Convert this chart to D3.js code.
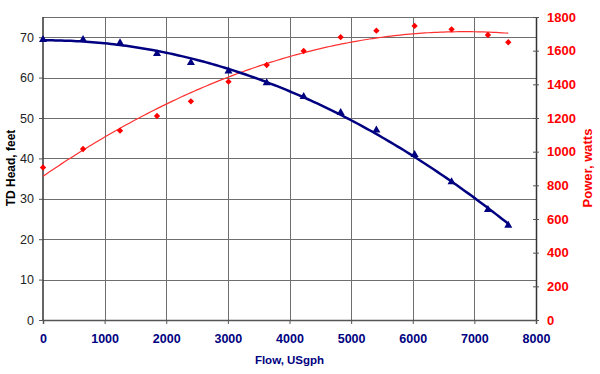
<!DOCTYPE html>
<html><head><meta charset="utf-8">
<script src="https://cdn.jsdelivr.net/npm/d3@7"></script>
<style>html,body{margin:0;padding:0;background:#fff;}svg{display:block;font-family:"Liberation Sans",Arial,sans-serif;}</style>
</head><body>
<svg id="c" width="600" height="374"></svg>
<script>
const flow  = [0, 650, 1250, 1850, 2400, 3010, 3630, 4230, 4830, 5410, 6030, 6630, 7220, 7550];
const head  = [69.4, 69.4, 68.6, 65.9, 63.7, 61.6, 58.7, 55.3, 51.3, 47.0, 40.9, 34.2, 27.3, 23.4];
const power = [906, 1016, 1125, 1212, 1299, 1416, 1515, 1598, 1680, 1719, 1747, 1727, 1693, 1650];
const xTicks = [0,1000,2000,3000,4000,5000,6000,7000,8000];
const yTicks = [0,10,20,30,40,50,60,70];
const y2Ticks = [0,200,400,600,800,1000,1200,1400,1600,1800];

const svg = d3.select('#c');
const L=43, R=536, T=17, B=320;
const x = d3.scaleLinear().domain([0,8000]).range([L,R]);
const y = d3.scaleLinear().domain([0,75]).range([B,T]);
const y2 = d3.scaleLinear().domain([0,1800]).range([B,T]);
const FONT = '"Liberation Sans",Arial,sans-serif';

// least-squares quadratic fit (trendline)
function polyfit(xs, ys){
  const n=xs.length; let S=[0,0,0,0,0], Sy=[0,0,0];
  for(let i=0;i<n;i++){let p=1;for(let k=0;k<5;k++){S[k]+=p;if(k<3)Sy[k]+=p*ys[i];p*=xs[i];}}
  const A=[[S[0],S[1],S[2],Sy[0]],[S[1],S[2],S[3],Sy[1]],[S[2],S[3],S[4],Sy[2]]];
  for(let i=0;i<3;i++){for(let j=i+1;j<3;j++){const f=A[j][i]/A[i][i];for(let k=i;k<4;k++)A[j][k]-=f*A[i][k];}}
  const c=[0,0,0];for(let i=2;i>=0;i--){let s=A[i][3];for(let k=i+1;k<3;k++)s-=A[i][k]*c[k];c[i]=s/A[i][i];}
  return v=>c[0]+c[1]*v+c[2]*v*v;
}
const fh = polyfit(flow, head), fp = polyfit(flow, power);
const xs = d3.range(0, flow[flow.length-1]+1, 50);

// grid
const g = svg.append('g');
g.selectAll('.hg').data(yTicks.filter(d=>d>0).concat([75])).enter().append('line')
  .attr('x1',L).attr('x2',R).attr('y1',d=>Math.round(y(d))+0.5).attr('y2',d=>Math.round(y(d))+0.5)
  .attr('stroke','#6e6e6e').attr('stroke-width',1);
g.selectAll('.vg').data(xTicks.filter(d=>d>0&&d<8000)).enter().append('line')
  .attr('y1',T).attr('y2',B).attr('x1',d=>Math.round(x(d))+0.5).attr('x2',d=>Math.round(x(d))+0.5)
  .attr('stroke','#6e6e6e').attr('stroke-width',1);

// axes
const ax = svg.append('g').attr('transform',`translate(0,${B})`)
  .call(d3.axisBottom(x).tickValues(xTicks).tickSize(4).tickPadding(10).tickFormat(d3.format('d')));
ax.select('.domain').attr('stroke','#555').attr('stroke-width',1.5);
ax.selectAll('.tick line').attr('stroke','#555');
ax.selectAll('text').attr('fill','#000080').attr('font-weight','bold').attr('font-size','12.5px').attr('font-family',FONT);

const ay = svg.append('g').attr('transform',`translate(${L},0)`)
  .call(d3.axisLeft(y).tickValues(yTicks).tickSize(4).tickPadding(5).tickFormat(d3.format('d')));
ay.select('.domain').attr('stroke','#333').attr('stroke-width',1.5).attr('d',`M0,${T}V${B}`);
ay.selectAll('.tick line').attr('stroke','#555');
ay.selectAll('text').attr('fill','#222').attr('font-size','12.5px').attr('font-family',FONT);

const ay2 = svg.append('g').attr('transform',`translate(${R},0)`)
  .call(d3.axisRight(y2).tickValues(y2Ticks).tickSizeInner(3).tickSizeOuter(0).tickPadding(8).tickFormat(d3.format('d')));
ay2.select('.domain').attr('stroke','#333').attr('stroke-width',1.5);
ay2.selectAll('.tick line').attr('stroke','#555').attr('x1',-3);
ay2.selectAll('text').attr('fill','#ff0000').attr('font-weight','bold').attr('font-size','13px').attr('font-family',FONT);

// trendlines
svg.append('path').datum(xs).attr('fill','none').attr('stroke','#ff3030').attr('stroke-width',1.2)
  .attr('d',d3.line().x(d=>x(d)).y(d=>y2(fp(d))));
svg.append('path').datum(xs).attr('fill','none').attr('stroke','#000080').attr('stroke-width',2.5)
  .attr('d',d3.line().x(d=>x(d)).y(d=>y(fh(d))));

// markers
svg.selectAll('.pw').data(flow).enter().append('path')
  .attr('transform',(d,i)=>`translate(${x(d)},${y2(power[i])}) rotate(45)`)
  .attr('d',d3.symbol().type(d3.symbolSquare).size(20)).attr('fill','#ff0000');
svg.selectAll('.hd').data(flow).enter().append('path')
  .attr('transform',(d,i)=>`translate(${x(d)},${y(head[i])})`)
  .attr('d',d3.symbol().type(d3.symbolTriangle).size(28)).attr('fill','#000080');

// titles
svg.append('text').attr('x',289.5).attr('y',364).attr('text-anchor','middle')
  .attr('font-size','11.5px').attr('font-weight','bold').attr('fill','#000080').text('Flow, USgph');
svg.append('text').attr('transform','translate(15,168) rotate(-90)').attr('text-anchor','middle')
  .attr('font-size','12px').attr('font-weight','bold').attr('fill','#000').text('TD Head, feet');
svg.append('text').attr('transform','translate(592,168) rotate(-90)').attr('text-anchor','middle')
  .attr('font-size','13px').attr('font-weight','bold').attr('fill','#ff0000').text('Power, watts');
</script>
</body></html>
